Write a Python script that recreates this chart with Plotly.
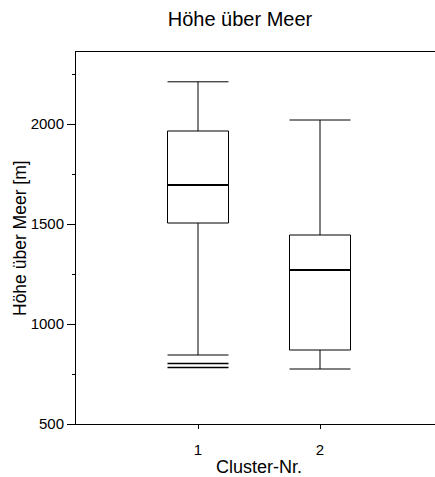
import plotly.graph_objects as go

clusters = [1, 2]
lower_whisker = [845, 775]
q1 = [1505, 870]
median = [1695, 1270]
q3 = [1965, 1445]
upper_whisker = [2211, 2020]
outlier_x = [1, 1]
outlier_y = [803, 783]

y_ticks = [500, 1000, 1500, 2000]
x_ticks = [1, 2]

FONT = "Liberation Sans, Arial, sans-serif"
W, H = 435, 477
L, R, T, B = 76, 0, 52, 53
pw = W - L - R
ph = H - T - B
x_range = [0, pw / 122.0]
px_per_unit = pw / (x_range[1] - x_range[0])
box_w = 0.5
# plotly's line-ew symbol is 1.4x the marker size long
line_marker_size = box_w * px_per_unit / 1.4

fig = go.Figure()
fig.add_trace(go.Box(
    x=clusters, q1=q1, median=median, q3=q3,
    lowerfence=lower_whisker, upperfence=upper_whisker,
    width=box_w, whiskerwidth=1,
    fillcolor="white", line=dict(color="black", width=1),
    boxpoints=False, showlegend=False, hoverinfo="skip",
))
# bold median lines
fig.add_trace(go.Scatter(
    x=clusters, y=median, mode="markers",
    marker=dict(symbol="line-ew", size=line_marker_size,
                line=dict(color="black", width=2)),
    showlegend=False, hoverinfo="skip",
))
# outliers drawn as horizontal lines
fig.add_trace(go.Scatter(
    x=outlier_x, y=outlier_y, mode="markers",
    marker=dict(symbol="line-ew", size=line_marker_size,
                line=dict(color="black", width=1.5)),
    showlegend=False, hoverinfo="skip",
))

fig.update_layout(
    width=W, height=H,
    margin=dict(l=L, r=R, t=T, b=B),
    paper_bgcolor="white", plot_bgcolor="white",
    font=dict(family=FONT, color="black", size=16),
    title=dict(text="Höhe über Meer", x=240 / W, xanchor="center",
               y=1 - 19 / H, yanchor="middle", yref="container",
               font=dict(size=20, family=FONT, color="black")),
    xaxis=dict(range=x_range, tickvals=x_ticks, ticktext=[str(v) for v in x_ticks],
               showgrid=False, zeroline=False, showline=True, linecolor="black",
               linewidth=1, mirror=True, ticks="outside", ticklen=4,
               tickcolor="black", tickfont=dict(size=15), ticklabelstandoff=8),
    yaxis=dict(range=[500, 2360], tickvals=y_ticks,
               showgrid=False, zeroline=False, showline=True, linecolor="black",
               linewidth=1, ticks="outside", ticklen=8, tickcolor="black",
               tickfont=dict(size=15), ticklabelstandoff=0,
               minor=dict(dtick=250, ticks="outside", ticklen=3, tickcolor="black",
                          showgrid=False)),
    annotations=[
        dict(text="Cluster-Nr.", xref="x", x=1.5, yref="paper",
             y=-(467 - (H - B)) / ph, xanchor="center", yanchor="middle",
             showarrow=False, font=dict(size=18, family=FONT, color="black")),
        dict(text="Höhe über Meer [m]", xref="paper", x=(20 - L) / pw,
             yref="paper", y=0.5, xanchor="center", yanchor="middle",
             textangle=-90, showarrow=False,
             font=dict(size=17.5, family=FONT, color="black")),
    ],
)

fig.write_html(
    "out.html",
    config={"displayModeBar": False},
    post_script="document.body.style.margin='0';document.body.style.overflow='hidden';",
)
